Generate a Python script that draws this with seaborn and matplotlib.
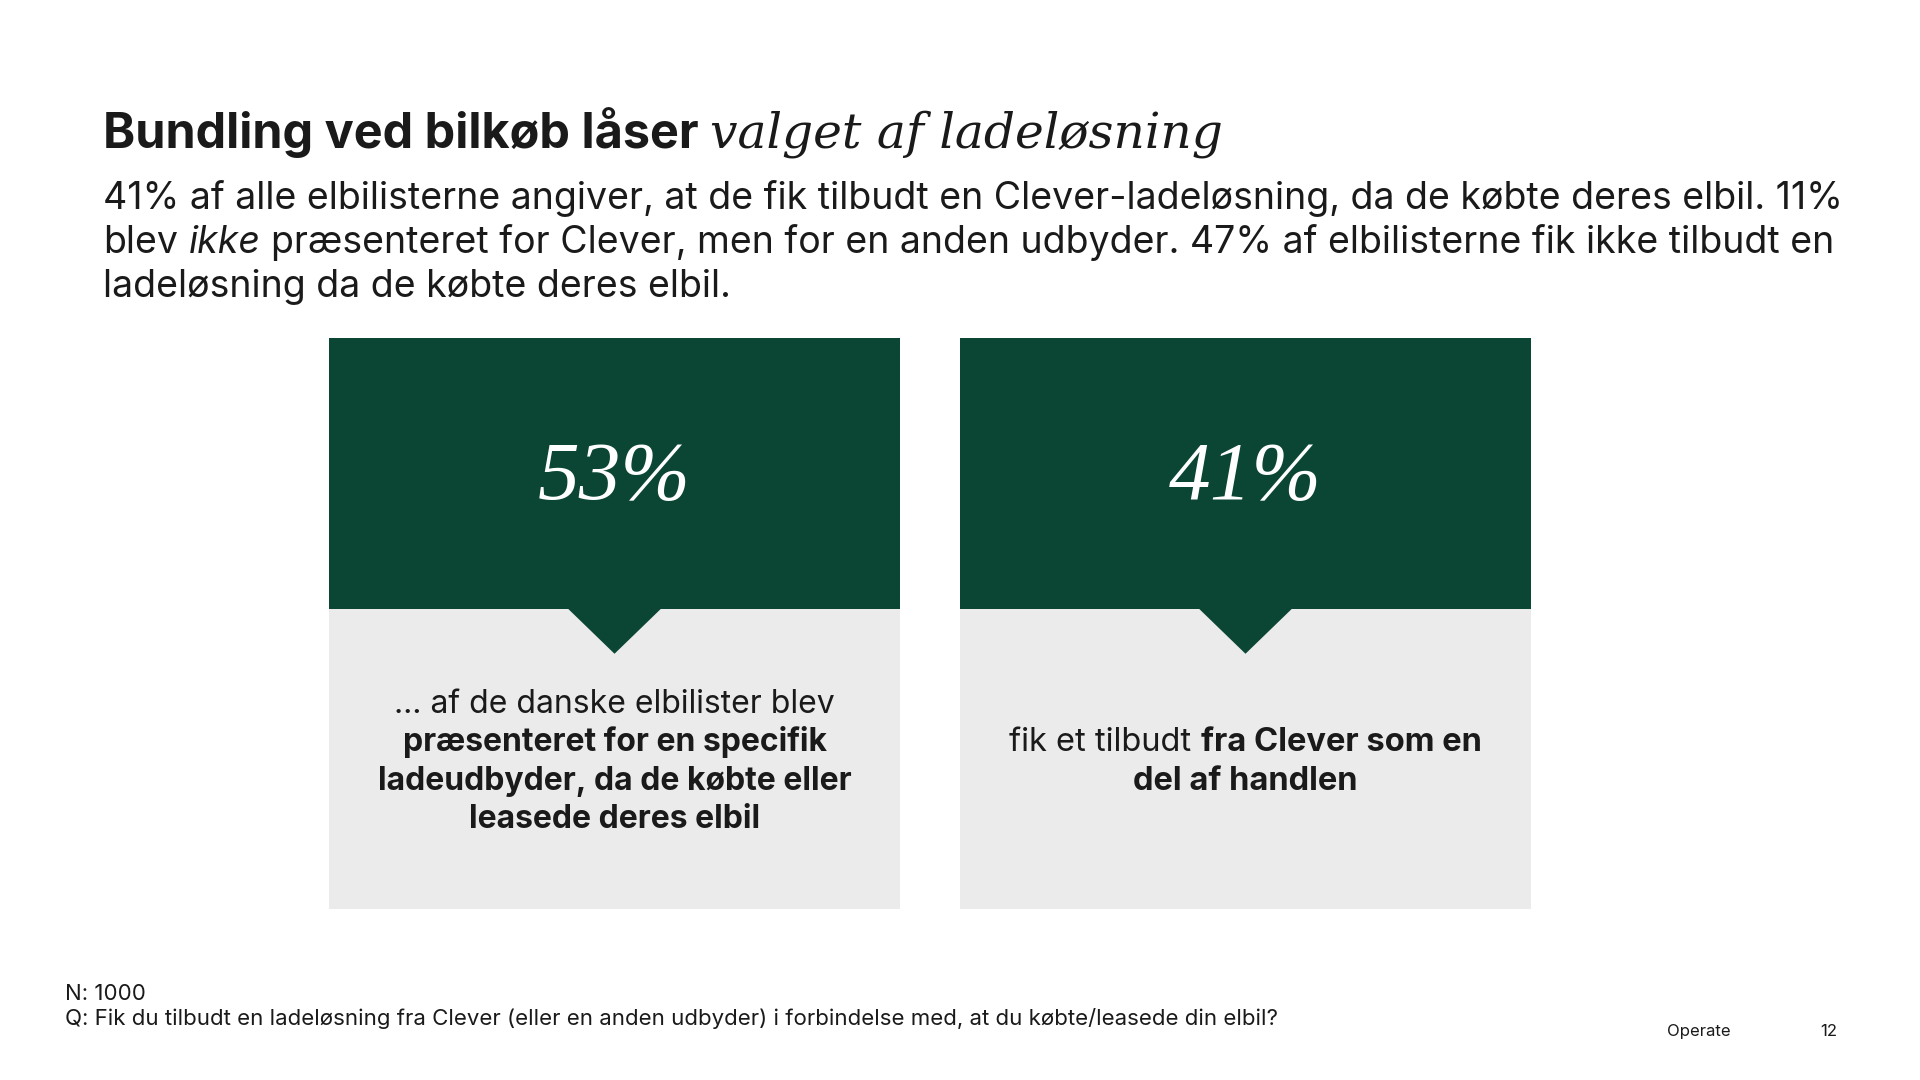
import matplotlib
matplotlib.use("Agg")
import matplotlib.pyplot as plt
import matplotlib.transforms as mtransforms
import seaborn as sns

# data
categories = ["left", "right"]
big_numbers = ["53%", "41%"]
percent_values = [53, 41]
captions = [
    [[("… af de danske elbilister blev", "normal")],
     [("præsenteret for en specifik", "bold")],
     [("ladeudbyder, da de købte eller", "bold")],
     [("leasede deres elbil", "bold")]],
    [[("fik et tilbudt", "normal"), ("fra Clever som en", "bold")],
     [("del af handlen", "bold")]],
]
title_bold = "Bundling ved bilkøb låser"
title_italic = "valget af ladeløsning"
subtitle_lines = [
    [("41% af alle elbilisterne angiver, at de fik tilbudt en Clever-ladeløsning, da de købte deres elbil. 11%", "normal")],
    [("blev", "normal"), ("ikke", "italic"), ("præsenteret for Clever, men for en anden udbyder. 47% af elbilisterne fik ikke tilbudt en", "normal")],
    [("ladeløsning da de købte deres elbil.", "normal")],
]
footer_n = "N: 1000"
footer_q = "Q: Fik du tilbudt en ladeløsning fra Clever (eller en anden udbyder) i forbindelse med, at du købte/leasede din elbil?"

GREEN = "#0b4634"
GREY = "#ebebeb"
INK = "#1a1a1a"
SANS = "Inter"
SERIF = "Liberation Serif"
SERIF_TITLE = "DejaVu Serif"

sns.set_theme(style="white")
plt.rcParams["font.family"] = [SANS, "DejaVu Sans"]

W, H = 1920, 1080
fig = plt.figure(figsize=(19.2, 10.8), dpi=100)
fig.patch.set_facecolor("white")
renderer = fig.canvas.get_renderer()
ident = mtransforms.IdentityTransform()


def style_kw(style, size):
    kw = dict(fontsize=size, color=INK, family=[SANS, "DejaVu Sans"])
    if style == "bold":
        kw["fontweight"] = "bold"
    elif style == "italic":
        kw["fontstyle"] = "italic"
    elif style == "serif_italic":
        kw["fontstyle"] = "italic"
        kw["family"] = [SERIF_TITLE, "DejaVu Serif"]
    return kw


def text_width(s, kw):
    t = fig.text(0, 0, s, transform=ident, **kw)
    w = t.get_window_extent(renderer).width
    t.remove()
    return w


def draw_runs(x, y_top, runs, size, ha="left", sizes=None):
    # x in pixels from left, y_top = baseline in pixels from top
    kws = [style_kw(st, (sizes[k] if sizes else size)) for k, (_, st) in enumerate(runs)]
    gap = text_width("a a", kws[0]) - text_width("aa", kws[0])
    widths = [text_width(s, k) for (s, _), k in zip(runs, kws)]
    total = sum(widths) + gap * (len(runs) - 1)
    cx = x - total / 2 if ha == "center" else x
    for (s, _), k, w in zip(runs, kws, widths):
        fig.text(cx, H - y_top, s, transform=ident, ha="left", va="baseline", **k)
        cx += w + gap


# title
draw_runs(103, 148, [(title_bold, "bold"), (title_italic, "serif_italic")], 35,
          sizes=[35, 35])

# subtitle
for i, line in enumerate(subtitle_lines):
    draw_runs(103, 209 + i * 44, line, 27)

# boxes
ax = fig.add_axes([329 / W, 1 - 909 / H, (1531 - 329) / W, (909 - 338) / H])
grey_frac = 0.526
bar_w = 0.905
sns.barplot(x=categories, y=[1.0, 1.0], ax=ax, color=GREEN, width=bar_w,
            saturation=1, linewidth=0)
sns.barplot(x=categories, y=[grey_frac, grey_frac], ax=ax, color=GREY,
            width=bar_w, saturation=1, linewidth=0)
ax.set_xlim(-bar_w / 2, 1 + bar_w / 2)
ax.set_ylim(0, 1)
ax.axis("off")

tri_hw, tri_d = 0.0738, 0.079
for i, (num, cap) in enumerate(zip(big_numbers, captions)):
    ax.fill([i - tri_hw, i + tri_hw, i], [grey_frac, grey_frac, grey_frac - tri_d],
            color=GREEN, zorder=5, linewidth=0)
    ax.text(i, 0.752, num, ha="center", va="center", color="white",
            fontsize=60, fontstyle="italic", family=[SERIF, "DejaVu Serif"], zorder=6)
    px, py = ax.transData.transform((i, 0.262))
    n = len(cap)
    line_h = 38.5
    for j, line in enumerate(cap):
        base = (H - py) + (j - (n - 1) / 2) * line_h + 11
        draw_runs(px, base, line, 23.5 if i == 1 else 23, ha="center")

# footer
fig.text(65, H - 1000, footer_n, transform=ident, fontsize=16, color=INK, va="baseline")
fig.text(65, H - 1025, footer_q, transform=ident, fontsize=16, color=INK, va="baseline")
fig.text(1667, H - 1036, "Operate", transform=ident, fontsize=12, color=INK, va="baseline")
fig.text(1820, H - 1036, "12", transform=ident, fontsize=12, color=INK, va="baseline")

fig.savefig("out.png", dpi=100)
